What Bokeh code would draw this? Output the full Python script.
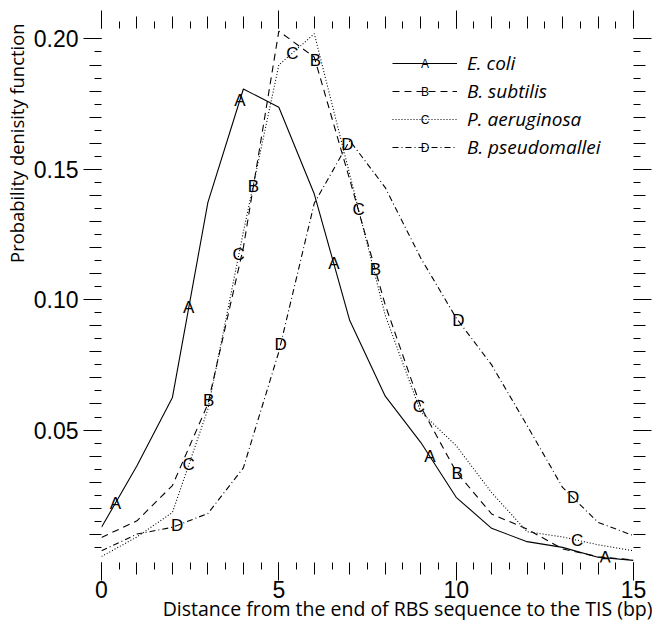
import numpy as np
from bokeh.plotting import figure
from bokeh.models import (LinearAxis, FixedTicker, Range1d, Label, Legend,
                          LegendItem, PrintfTickFormatter, Title)
from bokeh.core.properties import value
from bokeh.embed import file_html
from bokeh.resources import INLINE

# ---------------- data ----------------
x_bp = list(range(16))
e_coli = [0.0127, 0.0363, 0.0625, 0.1373, 0.1808, 0.1738, 0.1405, 0.0920,
          0.0630, 0.0453, 0.0242, 0.0123, 0.0072, 0.0050, 0.0012, 0.0000]
b_subtilis = [0.0088, 0.0152, 0.0287, 0.0600, 0.1200, 0.2030, 0.1930, 0.1460,
              0.0980, 0.0590, 0.0340, 0.0178, 0.0120, 0.0044, 0.0014, 0.0002]
p_aeruginosa = [0.0015, 0.0090, 0.0184, 0.0580, 0.1260, 0.1900, 0.2020, 0.1480,
                0.0940, 0.0570, 0.0440, 0.0260, 0.0110, 0.0090, 0.0060, 0.0037]
b_pseudomallei = [0.0037, 0.0101, 0.0127, 0.0180, 0.0355, 0.0800, 0.1370, 0.1610,
                  0.1430, 0.1160, 0.0930, 0.0750, 0.0517, 0.0280, 0.0146, 0.0095]

series_names = ["E. coli", "B. subtilis", "P. aeruginosa", "B. pseudomallei"]
series_letters = ["A", "B", "C", "D"]
# x positions of the letter symbols along each curve
letter_x = [
    [0.39, 2.46, 3.90, 6.55, 9.26, 14.2],
    [3.02, 4.28, 6.03, 7.72, 10.03],
    [2.46, 3.87, 5.38, 7.25, 8.95, 13.41],
    [2.13, 5.05, 6.93, 10.06, 13.30],
]
x_major = [0, 5, 10, 15]
y_major = [0.05, 0.10, 0.15, 0.20]

x_title = "Distance from the end of RBS sequence to the TIS (bp)"
y_title = "Probability denisity function"

# ---------------- style ----------------
dashes = ["solid", "7 5", "1 2", "6 3 1 3"]
TICK_FONT = "Liberation Sans"
TEXT_FONT = "Open Sans"

W, H = 652, 620
BL, BR, BT, BB = 101, 19, 28, 58

p = figure(width=W, height=H, output_backend="svg", toolbar_location=None,
           x_range=Range1d(0, 15), y_range=Range1d(-0.0008, 0.2040),
           x_axis_location=None, y_axis_location=None,
           min_border_left=BL, min_border_right=BR,
           min_border_top=BT, min_border_bottom=BB)
p.outline_line_color = None
p.xgrid.visible = False
p.ygrid.visible = False
p.background_fill_color = "white"
p.border_fill_color = "white"

MED, SHORT, LONG = 12, 7, 18

x_int = [float(v) for v in range(0, 16)]
x_half = [v + 0.5 for v in range(0, 15)]
y_01 = [round(0.01 * k, 3) for k in range(1, 21)]
y_005 = [round(0.005 + 0.01 * k, 3) for k in range(0, 20)]


def inner_axis(ticks, minor):
    ax = LinearAxis(ticker=FixedTicker(ticks=ticks, minor_ticks=minor))
    ax.axis_line_color = None
    ax.major_tick_in = 0
    ax.major_tick_out = MED
    ax.minor_tick_in = 0
    ax.minor_tick_out = SHORT
    ax.major_tick_line_color = "black"
    ax.minor_tick_line_color = "black"
    ax.major_label_text_font_size = "0px"
    ax.major_label_standoff = 0
    ax.major_label_overrides = {t: "" for t in ticks}
    return ax


def outer_axis(ticks, labels, standoff=0):
    ax = LinearAxis(ticker=FixedTicker(ticks=ticks, minor_ticks=[]))
    ax.axis_line_color = None
    ax.major_tick_in = MED
    ax.major_tick_out = LONG - MED
    ax.minor_tick_in = 0
    ax.minor_tick_out = 0
    ax.major_tick_line_color = "black"
    if labels:
        ax.major_label_text_font = TICK_FONT
        ax.major_label_text_font_size = "23px"
        ax.major_label_text_color = "black"
        ax.major_label_standoff = standoff
    else:
        ax.major_label_text_font_size = "0px"
        ax.major_label_standoff = 0
        ax.major_label_overrides = {t: "" for t in ticks}
    return ax


# bottom
p.add_layout(inner_axis(x_int, x_half), "below")
xb = outer_axis(x_major, True, standoff=0)
p.add_layout(xb, "below")
# top
p.add_layout(inner_axis(x_int, x_half), "above")
p.add_layout(outer_axis(x_major, False), "above")
# left
p.add_layout(inner_axis(y_01, y_005), "left")
yl = outer_axis(y_major, True, standoff=5)
yl.formatter = PrintfTickFormatter(format="%.2f")
p.add_layout(yl, "left")
# right
p.add_layout(inner_axis(y_01, y_005), "right")
p.add_layout(outer_axis(y_major, False), "right")

# ---------------- axis titles ----------------
p.add_layout(Title(text=y_title, align="right", offset=-5, standoff=3,
                   text_font=TEXT_FONT, text_font_size="18.4px",
                   text_font_style="normal", text_color="black"), "left")
p.add_layout(Title(text=x_title, align="right", offset=-19, standoff=-16,
                   text_font=TEXT_FONT, text_font_size="19.5px",
                   text_font_style="normal", text_color="black"), "below")

# ---------------- curves ----------------
all_series = [e_coli, b_subtilis, p_aeruginosa, b_pseudomallei]
renderers = []
for ys, dash in zip(all_series, dashes):
    r = p.line(x_bp, ys, line_color="black", line_width=1.1, line_dash=dash)
    renderers.append(r)

for ys, letter, lx in zip(all_series, series_letters, letter_x):
    ly = np.interp(lx, x_bp, ys)
    p.text(x=lx, y=list(ly), text=[letter] * len(lx), text_color="black",
           text_font=value(TICK_FONT), text_font_size="17px",
           text_align="center", text_baseline="middle")

# ---------------- legend ----------------
ROW = 28
GW = 65
LEG_X = 291                 # from frame left
LEG_Y = 534 - 21 - 4 * ROW  # from frame bottom (frame height 534)
legend = Legend(items=[LegendItem(label=n, renderers=[r])
                       for n, r in zip(series_names, renderers)],
                location=(LEG_X, LEG_Y), orientation="vertical")
legend.glyph_width = GW
legend.glyph_height = ROW
legend.label_height = ROW
legend.spacing = 0
legend.padding = 0
legend.margin = 0
legend.label_standoff = 10
legend.border_line_color = None
legend.background_fill_alpha = 0
legend.label_text_font = TEXT_FONT
legend.label_text_font_style = "italic"
legend.label_text_font_size = "19px"
legend.label_text_color = "black"
p.add_layout(legend)

for i, letter in enumerate(series_letters):
    p.add_layout(Label(x=LEG_X + GW / 2, y=LEG_Y + 4 * ROW - ROW / 2 - i * ROW,
                       x_units="screen", y_units="screen", text=letter,
                       text_align="center", text_baseline="middle",
                       text_font=TICK_FONT, text_font_size="12px",
                       text_color="black"))

open("out.html", "w").write(file_html(p, INLINE))
